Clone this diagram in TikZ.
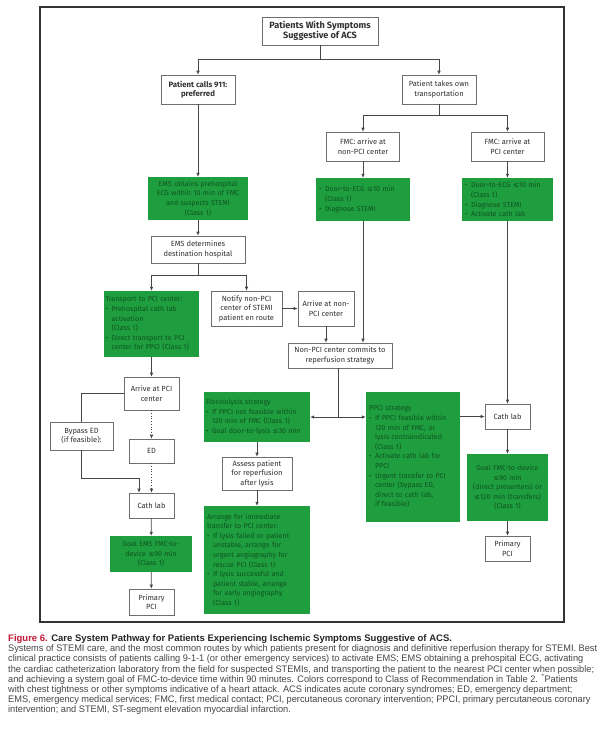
\documentclass[tikz,border=0pt]{standalone}
\usepackage{fontspec}
\setmainfont{Fira Sans}
\newfontfamily\capfont[FakeStretch=0.97]{Liberation Sans}
\newfontfamily\capbfont{Liberation Sans}
\newfontfamily\symfont{DejaVu Sans}
\usetikzlibrary{arrows.meta}
\definecolor{gfill}{RGB}{30,158,62}
\definecolor{gtext}{RGB}{16,84,34}
\definecolor{bline}{RGB}{110,110,110}
\definecolor{tline}{RGB}{70,70,70}
\definecolor{btext}{RGB}{50,50,50}
\definecolor{figred}{RGB}{196,22,52}
\definecolor{captext}{RGB}{70,70,70}
\newcommand{\lte}{{\symfont\char"2264}}
\newcommand{\gbul}{\makebox[6pt][l]{\textbullet}}
\newcommand{\gind}{\hspace*{6pt}}
\newcommand{\boxwfont}{\fontsize{7.5}{9.4}\selectfont}
\newcommand{\boxgfont}{\fontsize{7.1}{9.6}\selectfont}
\newcommand{\boxtfont}{\fontsize{9.1}{9.6}\selectfont\bfseries}
\newcommand{\boxbfont}{\fontsize{7.8}{9.6}\selectfont\bfseries}
\newcommand{\capsize}{\fontsize{9.5}{10}\selectfont}
\begin{document}
\begin{tikzpicture}[x=1pt,y=-1pt,
  sz/.style 2 args={minimum width=#1pt, minimum height=#2pt},
  wbox/.style={draw=bline, line width=0.7pt, fill=white, inner sep=0pt, align=center, text=btext, font=\boxwfont},
  gboxl/.style={fill=gfill, inner sep=0pt, align=left, text=gtext, font=\boxgfont},
  gboxc/.style={fill=gfill, inner sep=0pt, align=center, text=gtext, font=\boxgfont},
  conn/.style={draw=tline, line width=0.7pt},
  arr/.style={conn, -{Latex[length=4pt,width=3.6pt]}},
  dotarr/.style={arr, dotted},
  outerframe/.style={draw=black!80, line width=1.3pt},
  capline/.style={anchor=base west, inner sep=0pt, text=captext, font=\capfont\capsize}
]
\useasboundingbox (0,0) rectangle (600,737);
\fill[white] (0,0) rectangle (600,737);
\draw[outerframe] (40,7) rectangle (564,622);

% nodes
\node[wbox,sz={116}{28},font=\boxtfont] (top) at (320,31) {Patients With Symptoms\\Suggestive of ACS};
\node[wbox,sz={74}{29},font=\boxbfont] (call) at (198,89.5) {Patient calls 911:\\preferred};
\node[wbox,sz={74}{29}] (own) at (439,89.5) {Patient takes own\\transportation};
\node[wbox,sz={73}{29}] (fmcnon) at (363,146.5) {FMC: arrive at\\non-PCI center};
\node[wbox,sz={73}{29}] (fmcpci) at (507.5,146.5) {FMC: arrive at\\PCI center};
\node[gboxc,sz={100}{43},text width=98pt] (ems) at (198,198.5) {EMS obtains prehospital\\ECG within 10 min of FMC\\and suspects STEMI\\(Class 1)};
\node[gboxl,sz={94}{43},text width=88pt] (gnon) at (363,199.5) {\gbul Door-to-ECG \lte10 min\\\gind(Class 1)\\\gbul Diagnose STEMI};
\node[gboxl,sz={91}{43},text width=85pt] (gpci) at (507.5,199.5) {\gbul Door-to-ECG \lte10 min\\\gind(Class 1)\\\gbul Diagnose STEMI\\\gbul Activate cath lab};
\node[wbox,sz={94}{27}] (det) at (198,249.5) {EMS determines\\destination hospital};
\node[gboxl,sz={95}{66},text width=92pt] (trans) at (151.5,324) {Transport to PCI center:\\\gbul Prehospital cath lab\\\gind activation\\\gind(Class 1)\\\gbul Direct transport to PCI\\\gind center for PPCI (Class 1)};
\node[wbox,sz={71}{35}] (notify) at (246.5,308.5) {Notify non-PCI\\center of STEMI\\patient en route};
\node[wbox,sz={56}{35}] (arrnon) at (326,308.5) {Arrive at non-\\PCI center};
\node[wbox,sz={104}{25}] (commits) at (340,355.5) {Non-PCI center commits to\\reperfusion strategy};
\node[wbox,sz={55}{33}] (arrpci) at (151.5,393.5) {Arrive at PCI\\center};
\node[gboxl,sz={106}{50},text width=102pt] (fib) at (257,417) {Fibrinolysis strategy\\\gbul If PPCI not feasible within\\\gind 120 min of FMC (Class 1)\\\gbul Goal door-to-lysis \lte30 min};
\node[gboxl,sz={94}{130},text width=88pt] (ppci) at (413,457) {PPCI strategy\\\gbul If PPCI feasible within\\\gind 120 min of FMC, or\\\gind lysis contraindicated\\\gind(Class 1)\\\gbul Activate cath lab for\\\gind PPCI\\\gbul Urgent transfer to PCI\\\gind center (bypass ED,\\\gind direct to cath lab,\\\gind if feasible)};
\node[wbox,sz={45}{25}] (cathR) at (507.5,416.5) {Cath lab};
\node[wbox,sz={63}{28}] (bypass) at (81.5,436) {Bypass ED\\(if feasible):};
\node[wbox,sz={45}{24}] (ed) at (151.5,451) {ED};
\node[gboxc,sz={81}{67},text width=80pt] (goalF) at (507.5,487.5) {Goal FMC-to-device\\\lte90 min\\(direct presenters) or\\\lte120 min (transfers)\\(Class 1)};
\node[wbox,sz={70}{33}] (assess) at (257,473.5) {Assess patient\\for reperfusion\\after lysis};
\node[wbox,sz={45}{25}] (cathL) at (151.5,505.5) {Cath lab};
\node[gboxl,sz={106}{108},text width=100pt] (arrange) at (257,560) {Arrange for immediate\\transfer to PCI center:\\\gbul If lysis failed or patient\\\gind unstable, arrange for\\\gind urgent angiography for\\\gind rescue PCI (Class 1)\\\gbul If lysis successful and\\\gind patient stable, arrange\\\gind for early angiography\\\gind(Class 1)};
\node[gboxc,sz={82}{36},text width=80pt] (goalE) at (151,554) {Goal EMS FMC-to-\\device \lte90 min\\(Class 1)};
\node[wbox,sz={45}{25}] (primR) at (507.5,548.5) {Primary\\PCI};
\node[wbox,sz={45}{26}] (primL) at (151.5,602) {Primary\\PCI};

% connectors
\coordinate (j1) at (320,59);
\draw[conn] (top.south) -- (j1);
\draw[arr] (j1) -| (call.north);
\draw[arr] (j1) -| (own.north);
\draw[arr] (call) -- (ems);
\draw[arr] (ems) -- (det);
\coordinate (j2) at (198,275);
\draw[conn] (det.south) -- (j2);
\draw[arr] (j2) -| (trans.north);
\draw[arr] (j2) -| (notify.north);
\draw[arr] (notify) -- (arrnon);
\coordinate (j3) at (439,115);
\draw[conn] (own.south) -- (j3);
\draw[arr] (j3) -| (fmcnon.north);
\draw[arr] (j3) -| (fmcpci.north);
\draw[arr] (fmcnon) -- (gnon);
\draw[arr] (fmcpci) -- (gpci);
\draw[arr] (gnon.south) -- (gnon.south |- commits.north);
\draw[arr] (arrnon.south) -- (arrnon.south |- commits.north);
\coordinate (j4) at (338,417);
\draw[conn] (commits.south -| j4) -- (j4);
\draw[arr] (j4) -- (fib.east |- j4);
\draw[arr] (j4) -- (ppci.west |- j4);
\draw[arr] (ppci.east |- cathR.west) -- (cathR.west);
\draw[arr] (gpci.south) -- (cathR.north);
\draw[arr] (cathR) -- (goalF);
\draw[arr] (goalF) -- (primR);
\draw[arr] (trans) -- (arrpci);
\draw[conn] (arrpci.west) -| (bypass.north);
\coordinate (k2) at (139,478);
\draw[arr] (bypass.south) |- (k2) -- (k2 |- cathL.north);
\draw[dotarr] (arrpci) -- (ed);
\draw[dotarr] (ed) -- (cathL);
\draw[arr] (cathL) -- (goalE);
\draw[arr] (goalE) -- (primL);
\draw[arr] (fib) -- (assess);
\draw[arr] (assess) -- (arrange);

% caption
\node[capline, text=black!85, font=\capbfont\capsize\bfseries] (cap0) at (8,641) {\textcolor{figred}{Figure 6.} Care System Pathway for Patients Experiencing Ischemic Symptoms Suggestive of ACS.};
\node[capline] (cap1) at (8,651.5) {Systems of STEMI care, and the most common routes by which patients present for diagnosis and definitive reperfusion therapy for STEMI. Best};
\node[capline] (cap2) at (8,661.5) {clinical practice consists of patients calling 9-1-1 (or other emergency services) to activate EMS; EMS obtaining a prehospital ECG, activating};
\node[capline] (cap3) at (8,672) {the cardiac catheterization laboratory from the field for suspected STEMIs, and transporting the patient to the nearest PCI center when possible;};
\node[capline] (cap4) at (8,682) {and achieving a system goal of FMC-to-device time within 90 minutes. Colors correspond to Class of Recommendation in Table 2. \textsuperscript{*}Patients};
\node[capline] (cap5) at (8,692) {with chest tightness or other symptoms indicative of a heart attack. ACS indicates acute coronary syndromes; ED, emergency department;};
\node[capline] (cap6) at (8,702) {EMS, emergency medical services; FMC, first medical contact; PCI, percutaneous coronary intervention; PPCI, primary percutaneous coronary};
\node[capline] (cap7) at (8,712) {intervention; and STEMI, ST-segment elevation myocardial infarction.};
\end{tikzpicture}
\end{document}
